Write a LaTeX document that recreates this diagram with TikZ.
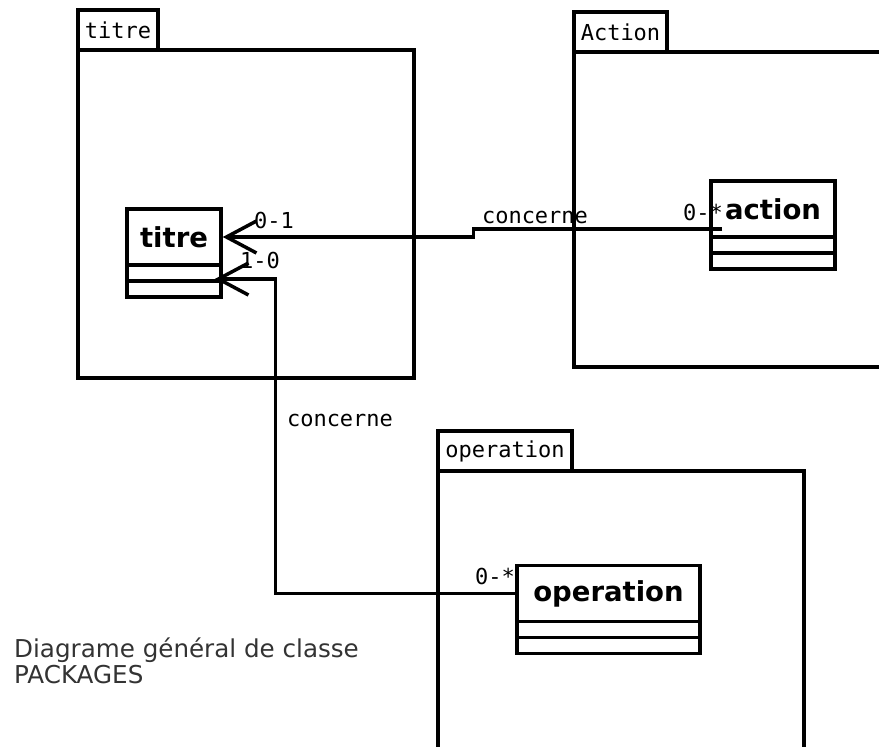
\documentclass[tikz,border=0pt]{standalone}
\usepackage{fontspec}
\setmainfont{DejaVu Sans}
\newfontfamily\monofont{DejaVu Sans Mono}
\usetikzlibrary{arrows.meta}

\tikzstyle{paquet}=[draw,line width=3.5pt,shape=rectangle,inner sep=0pt]
\tikzstyle{onglet}=[paquet,minimum height=40pt,font=\monofont\fontsize{22}{26}\selectfont]
\tikzstyle{classe}=[draw,line width=3.5pt,shape=rectangle,inner sep=0pt,minimum height=56pt,font=\bfseries\fontsize{27.5}{32}\selectfont]
\tikzstyle{compart}=[draw,line width=3.5pt,shape=rectangle,inner sep=0pt,minimum height=16pt]
\tikzstyle{mult}=[inner sep=0pt,font=\monofont\fontsize{22}{26}\selectfont]
\tikzstyle{assoc}=[line width=3.5pt,-{Straight Barb[length=30pt,width=32pt]}]

\begin{document}
\begin{tikzpicture}[x=1pt,y=-1pt]
\useasboundingbox (0,0) rectangle (879,747);
\clip (0,0) rectangle (879,747);
\node[onglet,minimum width=80pt]  at (118,30)   (p-titre)  {titre};
\node[paquet,minimum width=336pt,minimum height=328pt] at (246,214)   (b-titre)  {};
\node[onglet,minimum width=93pt]  at (620.5,32) (p-action) {Action};
\node[paquet,minimum width=400pt,minimum height=315pt] at (774,209.5) (b-action) {};
\node[onglet,minimum width=134pt] at (505,451)  (p-oper)   {operation};
\node[paquet,minimum width=366pt,minimum height=429pt] at (621,685.5) (b-oper)   {};
\node[classe,minimum width=94pt]   at (174,237)     (titre)     {titre};
\node[compart,minimum width=94pt]  at (174,273)     (titre-a)   {};
\node[compart,minimum width=94pt]  at (174,289)     (titre-o)   {};
\node[classe,minimum width=124pt]  at (773,209)     (action)    {action};
\node[compart,minimum width=124pt] at (773,245)     (action-a)  {};
\node[compart,minimum width=124pt] at (773,261)     (action-o)  {};
\node[classe,minimum width=183pt]  at (608.5,593.5) (operation)   {operation};
\node[compart,minimum width=183pt] at (608.5,629.5) (operation-a) {};
\node[compart,minimum width=183pt] at (608.5,645.5) (operation-o) {};
\coordinate (a-bout) at ([shift={(13,20)}]action.west);
\coordinate (t-bout) at ([shift={(-8,6)}]titre-a.east);
\draw[assoc] (a-bout) -- ++(-249,0) |- (titre.east);
\draw[assoc] (operation.west) -- ++(-240,0) |- (t-bout);
\node[mult] at (274,220) (m-titre1) {0-1};
\node[mult] at (260,260) (m-titre2) {1-0};
\node[mult] at (703,212) (m-action) {0-*};
\node[mult] at (495,576) (m-oper)   {0-*};
\node[mult] at (535,217) (l-haut)   {concerne};
\node[mult] at (340,420) (l-gauche) {concerne};
\node[anchor=north west,inner sep=0pt,align=left,text=black!80,font=\fontsize{24.6}{26}\selectfont] at (14,638) (legende) {Diagrame général de classe\\PACKAGES};
\end{tikzpicture}
\end{document}
